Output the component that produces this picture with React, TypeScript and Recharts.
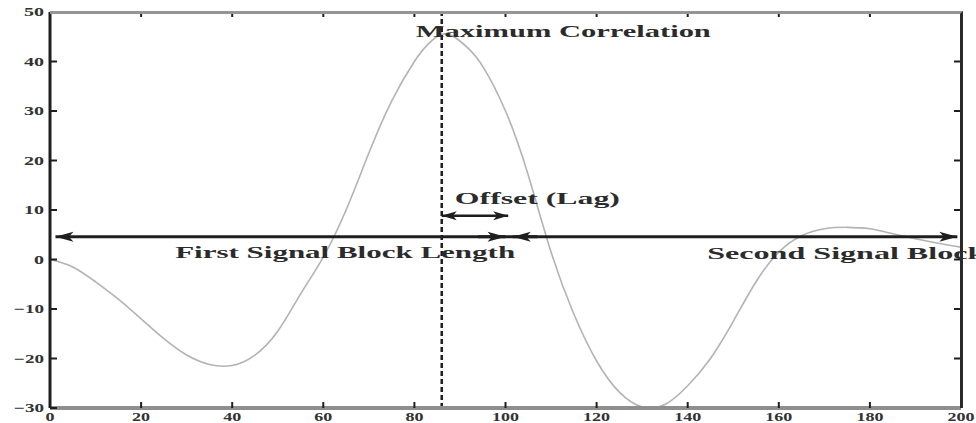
import { LineChart, Line, XAxis, YAxis, ReferenceLine, ReferenceDot } from "recharts";

// cross-correlation curve
const lags = [
  0, 5, 10, 15, 20, 25, 30, 35, 40, 45, 50, 55, 60, 65, 70, 75, 80, 83, 86, 89, 92, 95,
  100, 105, 110, 115, 120, 125, 130, 135, 140, 145, 150, 155, 160, 165, 170, 175, 180,
  185, 190, 195, 200,
];
const correlation = [
  0, -1.5, -4.5, -8, -12, -16, -19.3, -21.2, -21.4, -19.3, -14.5, -7, 0.5, 10, 21.5, 32,
  40, 43.5, 45.5, 44.8, 42.5, 39, 30, 17, 1.5, -11, -20.5, -26.8, -29.8, -29.3, -25.5,
  -20, -12.5, -4.5, 1.5, 4.8, 6.2, 6.5, 6.2, 5.2, 4.2, 3.3, 2.5,
];

const xTicks = [0, 20, 40, 60, 80, 100, 120, 140, 160, 180, 200];
const yTicks = [-30, -20, -10, 0, 10, 20, 30, 40, 50];

// annotations
const peakLag = 86;
const blockY = 4.6;
const offsetY = 8.85;
const offsetEnd = 100.6;

const notes = [
  { text: "Maximum Correlation", x: 112.7, y: 46.1, len: 295, anchor: "middle" },
  { text: "Offset (Lag)", x: 107, y: 12.3, len: 165, anchor: "middle" },
  { text: "First Signal Block Length", x: 64.8, y: 1.5, len: 340, anchor: "middle" },
  { text: "Second Signal Block", x: 144.3, y: 1.2, len: 278, anchor: "start" },
];

const data = lags.map((x, i) => ({ x, y: correlation[i] }));

const W = 976;
const H = 423;
const MARGIN = { top: 12, right: 15, bottom: 0, left: 0 };
const Y_AXIS_W = 50;
const X_AXIS_H = 15;
const PLOT_W = W - MARGIN.left - MARGIN.right - Y_AXIS_W;
const PLOT_H = H - MARGIN.top - MARGIN.bottom - X_AXIS_H;

const FONT = "'Liberation Serif', 'Times New Roman', serif";
const INK = "#1e1e1e";

function head(tx: number, ty: number, dir: number, len: number, w: number) {
  const bx = tx - dir * len;
  return `${tx},${ty} ${bx},${ty - w} ${bx + dir * len * 0.25},${ty} ${bx},${ty + w}`;
}

// line with arrow heads; ends = "both" | "start" | "end"
const arrow = (ends: string, len: number, w: number, sw: number) => (p: any) => {
  const dir = p.x2 >= p.x1 ? 1 : -1;
  return (
    <g>
      <line x1={p.x1} y1={p.y1} x2={p.x2} y2={p.y2} stroke={INK} strokeWidth={sw} />
      {ends !== "start" && <polygon points={head(p.x2, p.y2, dir, len, w)} fill={INK} />}
      {ends !== "end" && <polygon points={head(p.x1, p.y1, -dir, len, w)} fill={INK} />}
    </g>
  );
};

const tickLabel = (value: number) => (value < 0 ? `\u2212${Math.abs(value)}` : `${value}`);

// left ticks also carry the mirrored ticks on the right edge
function LeftTick(props: any) {
  const { x, y, payload } = props;
  const s = tickLabel(payload.value);
  const inner = payload.value > -30 && payload.value < 50;
  return (
    <g>
      <line x1={x} y1={y} x2={x + 7} y2={y} stroke={INK} strokeWidth={2} />
      {inner && (
        <line x1={x + PLOT_W} y1={y} x2={x + PLOT_W - 7} y2={y} stroke={INK} strokeWidth={2} />
      )}
      <text
        x={x - 6}
        y={y}
        textAnchor="end"
        dominantBaseline="central"
        fontFamily={FONT}
        fontWeight="bold"
        fontSize={12}
        fill="#333"
        textLength={s.length * 10}
        lengthAdjust="spacingAndGlyphs"
      >
        {s}
      </text>
    </g>
  );
}

// bottom ticks also carry the mirrored ticks on the top edge
function BottomTick(props: any) {
  const { x, y, payload } = props;
  const s = tickLabel(payload.value);
  const inner = payload.value > 0 && payload.value < 200;
  return (
    <g>
      {inner && <line x1={x} y1={y} x2={x} y2={y - 6} stroke={INK} strokeWidth={2} />}
      {inner && (
        <line x1={x} y1={y - PLOT_H} x2={x} y2={y - PLOT_H + 5} stroke={INK} strokeWidth={2} />
      )}
      <text
        x={x}
        y={y + 9}
        textAnchor="middle"
        dominantBaseline="central"
        fontFamily={FONT}
        fontWeight="bold"
        fontSize={12}
        fill="#333"
        textLength={s.length * 9}
        lengthAdjust="spacingAndGlyphs"
      >
        {s}
      </text>
    </g>
  );
}

const noteShape = (n: (typeof notes)[number]) => (p: any) => (
  <text
    x={p.cx}
    y={p.cy}
    textAnchor={n.anchor as any}
    dominantBaseline="central"
    fontFamily={FONT}
    fontWeight="bold"
    fontSize={17}
    fill="#2b2b2b"
    textLength={n.len}
    lengthAdjust="spacingAndGlyphs"
  >
    {n.text}
  </text>
);

export default function App() {
  return (
    <div style={{ position: "absolute", left: 0, top: 0, width: W, height: H, background: "#fff" }}>
      <LineChart width={W} height={H} data={data} margin={MARGIN}>
        <XAxis
          dataKey="x"
          type="number"
          domain={[0, 200]}
          ticks={xTicks}
          height={X_AXIS_H}
          tickSize={0}
          tickMargin={0}
          tickLine={false}
          axisLine={{ stroke: "#8e8e8e", strokeWidth: 4 }}
          tick={<BottomTick />}
          interval={0}
        />
        <YAxis
          type="number"
          domain={[-30, 50]}
          ticks={yTicks}
          width={Y_AXIS_W}
          tickSize={0}
          tickMargin={0}
          tickLine={false}
          axisLine={{ stroke: INK, strokeWidth: 3 }}
          tick={<LeftTick />}
          interval={0}
        />

        <Line
          dataKey="y"
          type="natural"
          stroke="#b3b3b3"
          strokeWidth={1.6}
          dot={false}
          isAnimationActive={false}
        />

        {/* maximum correlation marker */}
        <ReferenceLine x={peakLag} stroke={INK} strokeWidth={2.5} strokeDasharray="5 3" />

        {/* signal block arrows */}
        <ReferenceLine
          segment={[{ x: 1.2, y: blockY }, { x: 199.2, y: blockY }]}
          shape={arrow("both", 18, 5, 3)}
        />
        <ReferenceLine
          segment={[{ x: 94, y: blockY }, { x: 100, y: blockY }]}
          shape={arrow("end", 18, 5, 3)}
        />
        <ReferenceLine
          segment={[{ x: 101.6, y: blockY }, { x: 107, y: blockY }]}
          shape={arrow("start", 18, 5, 3)}
        />
        {/* offset (lag) arrow */}
        <ReferenceLine
          segment={[{ x: peakLag, y: offsetY }, { x: offsetEnd, y: offsetY }]}
          shape={arrow("both", 15, 4.5, 2.5)}
        />

        {notes.map((n) => (
          <ReferenceDot key={n.text} x={n.x} y={n.y} r={0} shape={noteShape(n)} />
        ))}
      </LineChart>
      {/* top and right edges of the plot box */}
      <div
        style={{
          position: "absolute",
          left: MARGIN.left + Y_AXIS_W,
          top: MARGIN.top - 1.5,
          width: PLOT_W + 1.5,
          height: PLOT_H + 1.5,
          borderTop: "3px solid #959595",
          borderRight: "3px solid #2a2a2a",
          boxSizing: "border-box",
          pointerEvents: "none",
        }}
      />
    </div>
  );
}
